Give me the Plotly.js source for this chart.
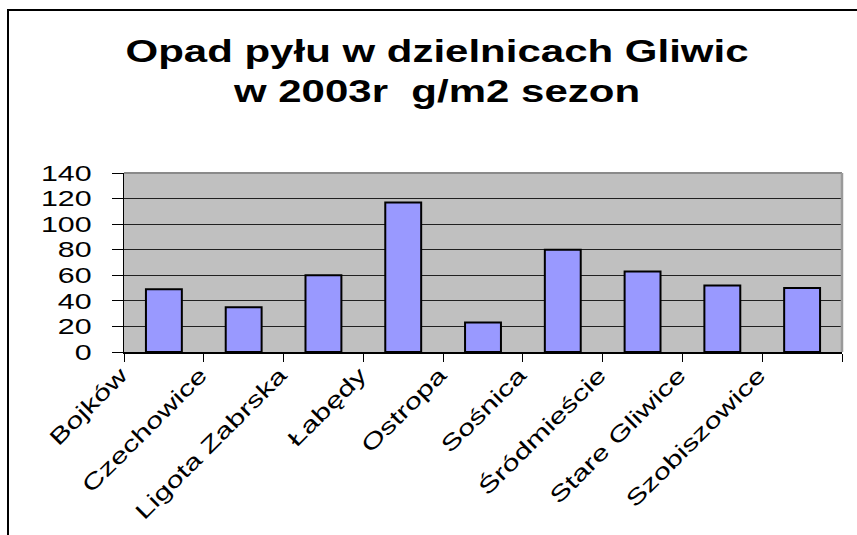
<!DOCTYPE html>
<html>
<head>
<meta charset="utf-8">
<script src="https://cdn.plot.ly/plotly-3.0.1.min.js"></script>
<style>
  html, body { margin: 0; padding: 0; background: #fff; overflow: hidden; }
  #wrap { position: relative; width: 857px; height: 535px; }
  #chart { position: absolute; left: 0; top: 0; width: 857px; height: 535px; }
  #frame { position: absolute; left: 7px; top: 9px; width: 900px; height: 600px;
           border-left: 2.5px solid #000; border-top: 2px solid #000; pointer-events: none; }
</style>
</head>
<body>
<div id="wrap">
  <div id="chart"></div>
  <div id="frame"></div>
</div>
<script>
// ---- data ----
const categories = ["Bojków", "Czechowice", "Ligota Zabrska", "Łabędy", "Ostropa",
                    "Sośnica", "Śródmieście", "Stare Gliwice", "Szobiszowice"];
const values = [49, 35, 60, 117, 23, 80, 63, 52, 50];
const titleLines = ["Opad pyłu w dzielnicach Gliwic", "w 2003r\u00a0 g/m2 sezon"];
const yTicks = [0, 20, 40, 60, 80, 100, 120, 140];

const FONT = "'Liberation Sans', Arial, sans-serif";

const trace = {
  type: "bar",
  x: categories,
  y: values,
  marker: { color: "#9999ff", line: { color: "#000", width: 2 } },
  hoverinfo: "x+y"
};

const layout = {
  width: 857,
  height: 535,
  margin: { l: 124, r: 15, t: 173, b: 183, pad: 0 },
  paper_bgcolor: "#ffffff",
  plot_bgcolor: "#c0c0c0",
  font: { family: FONT, color: "#000" },
  showlegend: false,
  bargap: 0.55,
  title: {
    text: titleLines.join("<br>"),
    font: { family: FONT, size: 31, weight: "bold", color: "#000" },
    x: 437 / 857, xanchor: "center", xref: "container",
    y: 1 - 62 / 535, yanchor: "top", yref: "container"
  },
  xaxis: {
    type: "category",
    range: [-0.5, categories.length - 0.5],
    tickson: "boundaries",
    ticks: "outside", ticklen: 8, tickwidth: 1, tickcolor: "#000",
    showline: true, linecolor: "#000", linewidth: 1.5,
    showgrid: false,
    tickangle: -45,
    tickfont: { family: FONT, size: 22, color: "#000" },
    ticklabelshift: -43,
    ticklabelstandoff: 0,
    fixedrange: true
  },
  yaxis: {
    range: [0, 140],
    tickvals: yTicks,
    ticktext: yTicks.map(String),
    ticks: "outside", ticklen: 11, tickwidth: 1, tickcolor: "#000",
    showline: true, linecolor: "#000", linewidth: 1,
    showgrid: true, gridcolor: "#202020", gridwidth: 1,
    zeroline: false,
    tickfont: { family: FONT, size: 22, color: "#000" },
    ticklabelstandoff: 16,
    fixedrange: true
  },
  shapes: [
    { type: "line", xref: "paper", yref: "paper", x0: 0, x1: 1, y0: 1, y1: 1,
      line: { color: "#8a8a8a", width: 2 }, layer: "above" },
    { type: "line", xref: "paper", yref: "paper", x0: 1, x1: 1, y0: 0, y1: 1,
      line: { color: "#9a9a9a", width: 2.5 }, layer: "above" }
  ]
};

function stretch(el, k) {
  const ax = parseFloat(el.getAttribute("x")) || 0;
  const t = el.getAttribute("transform") || "";
  el.setAttribute("transform", t + " translate(" + ax + ",0) scale(" + k + ",1) translate(" + (-ax) + ",0)");
}

Plotly.newPlot("chart", [trace], layout, { staticPlot: true, displayModeBar: false }).then(function (gd) {
  gd.querySelectorAll(".gtitle").forEach(el => stretch(el, 1.355));
  gd.querySelectorAll(".ytick text").forEach(el => stretch(el, 1.38));
  gd.querySelectorAll(".xtick text").forEach(el => stretch(el, 1.4));
});
</script>
</body>
</html>
